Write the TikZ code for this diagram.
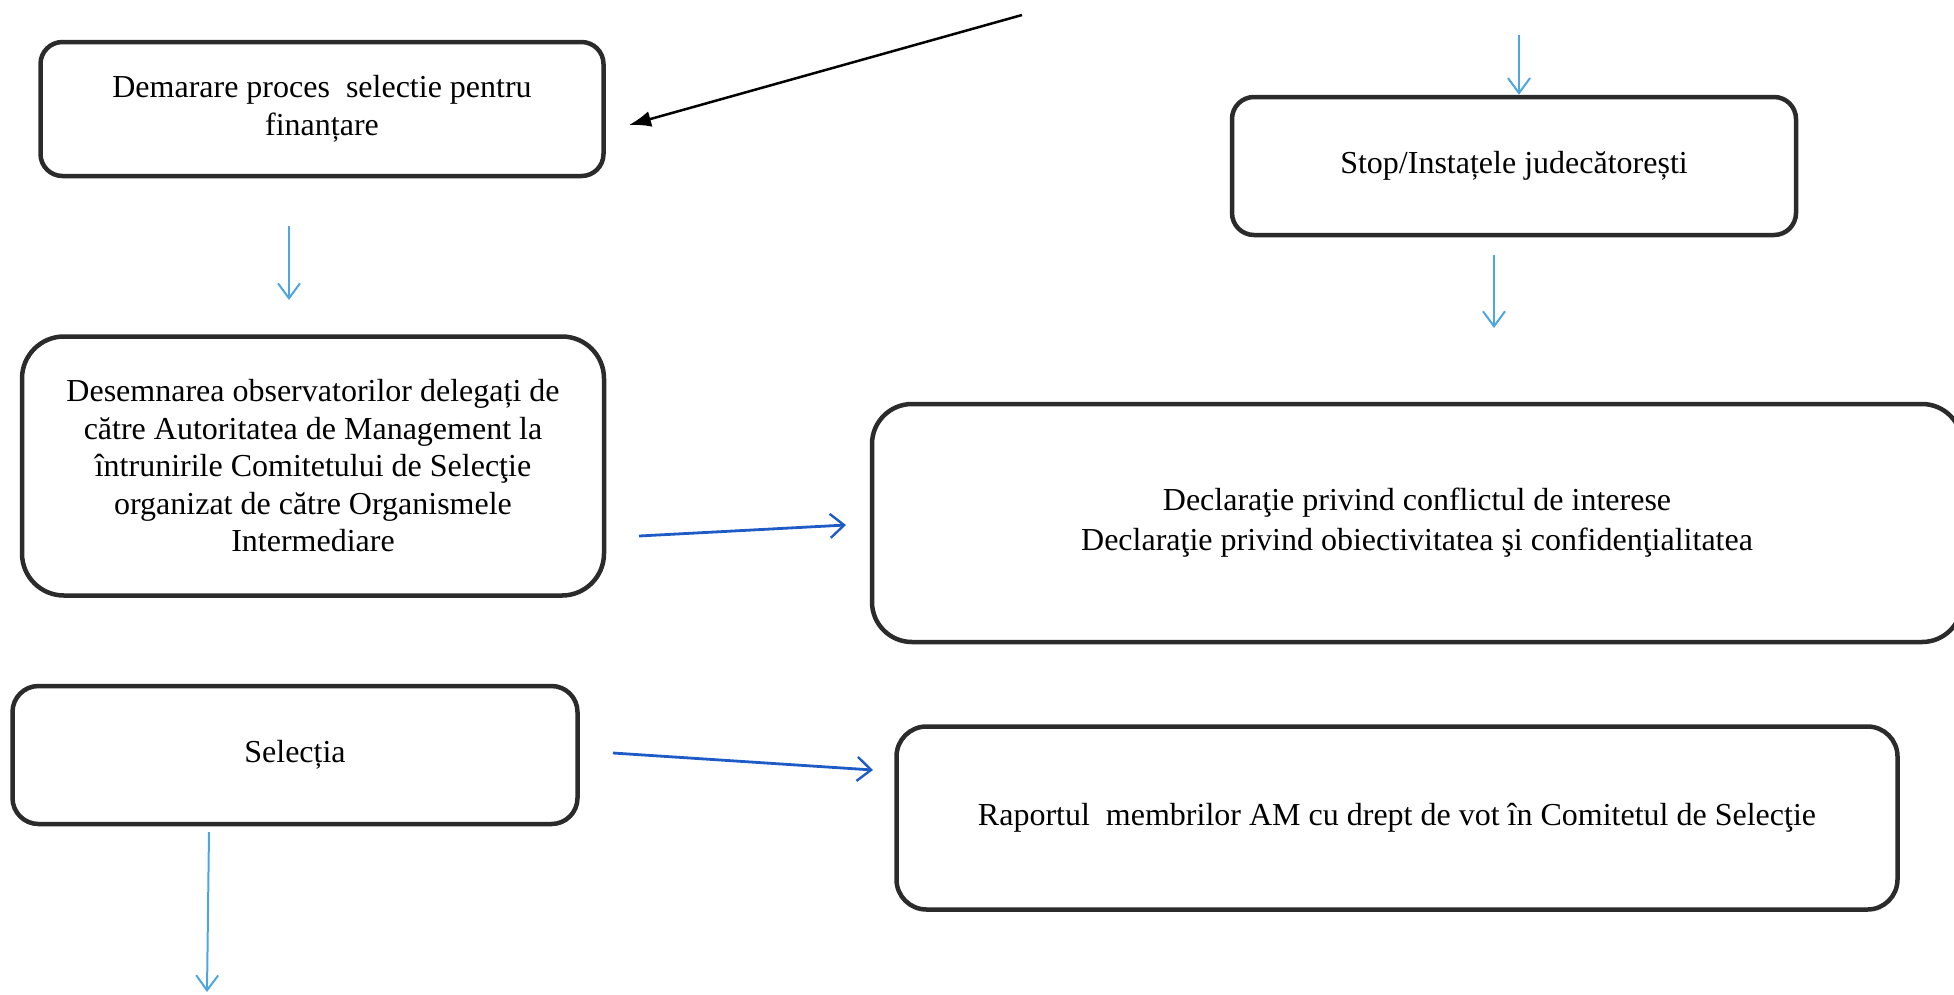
\documentclass[tikz,border=0pt]{standalone}
\usepackage{fontspec}
\setmainfont{Liberation Serif}
\usetikzlibrary{arrows.meta}
\definecolor{frame}{HTML}{2B2B2B}
\definecolor{lineblue}{HTML}{4DA6E0}
\definecolor{darkblue}{HTML}{1F5BC6}

\begin{document}
\begin{tikzpicture}[x=1pt,y=-1pt,
  box/.style={draw=frame, line width=4.5pt, rounded corners=#1, inner sep=0pt,
    align=center, font=\fontsize{32}{37.5}\selectfont},
  box/.default=22pt,
  thinflow/.style={draw=lineblue, line width=2pt,
    -{Straight Barb[length=15pt,width=22pt,line width=2pt]}},
  sideflow/.style={draw=darkblue, line width=2.8pt,
    -{Straight Barb[length=14pt,width=24pt,line width=2.4pt]}},
  blackflow/.style={draw=black, line width=2.5pt,
    -{Latex[length=22pt,width=16pt]}}
]
\useasboundingbox (0,0) rectangle (1954,994);

% process boxes
\node[box=22pt, minimum width=563pt, minimum height=134pt] (demarare) at (322,109)
  {Demarare proces\ \ selectie pentru\\finanțare};
\node[box=22pt, minimum width=564pt, minimum height=138pt] (stop) at (1514,166)
  {Stop/Instațele judecătorești};
\node[box=42pt, minimum width=582pt, minimum height=259pt] (desemnare) at (313,466)
  {Desemnarea observatorilor delegați de\\către Autoritatea de Management la\\întrunirile Comitetului de Selecţie\\organizat de către Organismele\\Intermediare};
\node[box=40pt, minimum width=1090pt, minimum height=238pt,
      font=\fontsize{32}{40}\selectfont] (declaratie) at (1417,523)
  {Declaraţie privind conflictul de interese\\Declaraţie privind obiectivitatea şi confidenţialitatea};
\node[box=26pt, minimum width=565pt, minimum height=138pt] (selectia) at (295,755)
  {Selecția};
\node[box=30pt, minimum width=1001pt, minimum height=183pt] (raport) at (1397,818)
  {Raportul\ \ membrilor AM cu drept de vot în Comitetul de Selecţie};

% free arrow ends
\coordinate (topIn) at (1022,15);
\coordinate (demarareIn) at (629,125);
\coordinate (stopTop) at (1519,35);
\coordinate (stopOutA) at (1494,255);
\coordinate (stopOutB) at (1494,328);
\coordinate (demOutA) at (289,226);
\coordinate (demOutB) at (289,300);
\coordinate (desOut) at (639,536);
\coordinate (declIn) at (846,525);
\coordinate (selOut) at (613,753);
\coordinate (rapIn) at (873,770);
\coordinate (selDownA) at (209,832);
\coordinate (selDownB) at (207,992);

% connectors
\draw[blackflow] (topIn) -- (demarareIn);
\draw[thinflow] (stopTop) -- (stop.north -| stopTop);
\draw[thinflow] (stopOutA) -- (stopOutB);
\draw[thinflow] (demOutA) -- (demOutB);
\draw[sideflow] (desOut) -- (declIn);
\draw[sideflow] (selOut) -- (rapIn);
\draw[thinflow] (selDownA) -- (selDownB);
\end{tikzpicture}
\end{document}
